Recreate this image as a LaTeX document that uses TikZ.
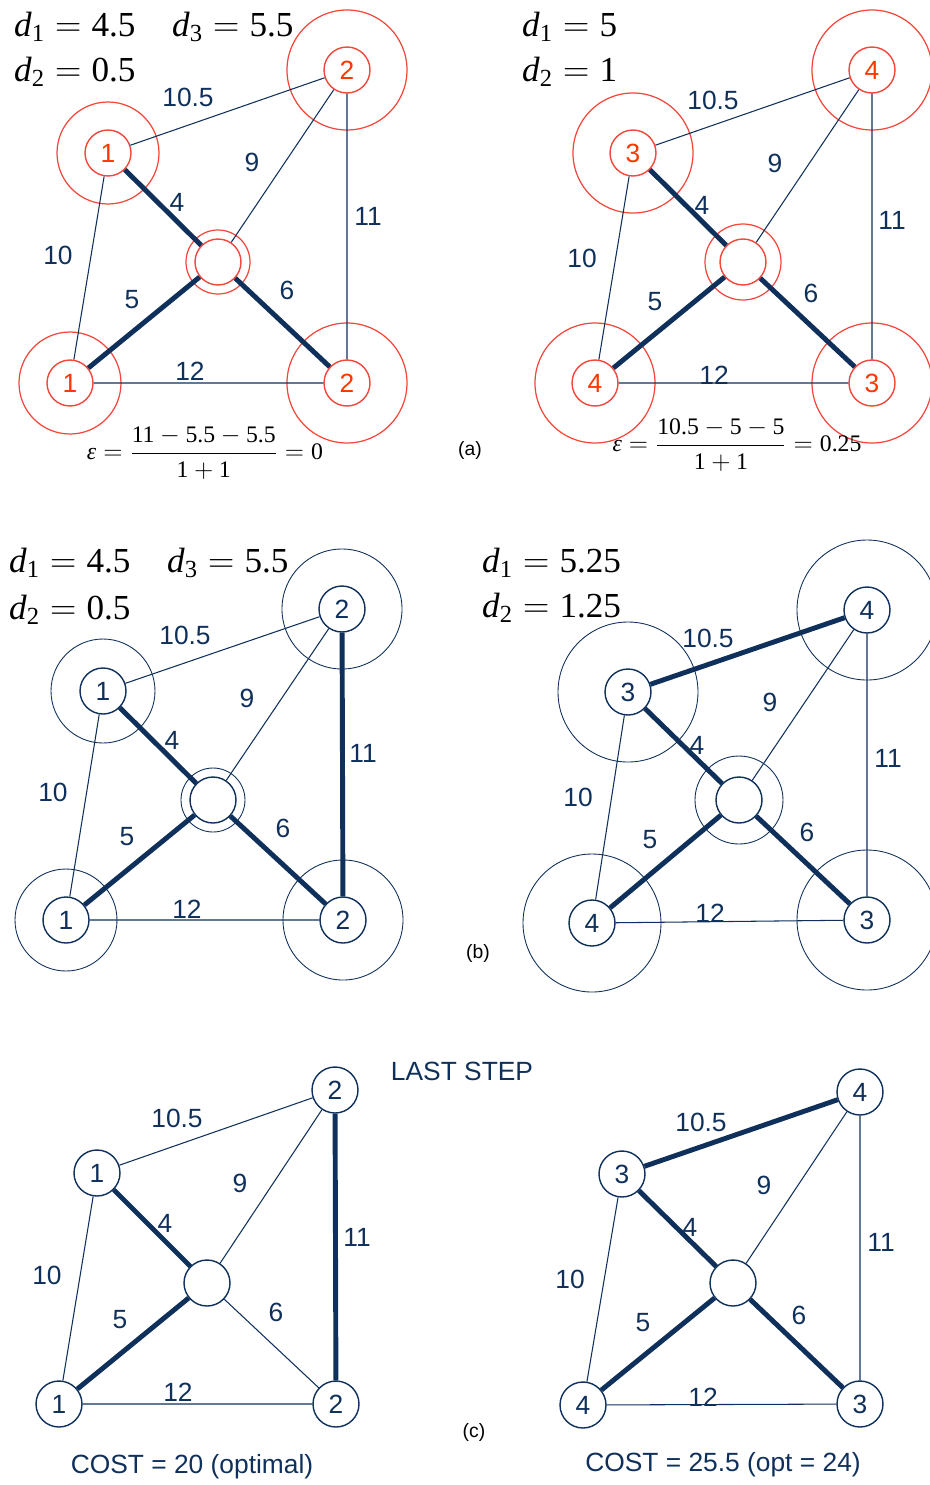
\documentclass[tikz,border=0pt]{standalone}
\usepackage{amsmath}
\usepackage{fontspec}
\setmainfont{Liberation Sans}
\newfontfamily\eqfont{Liberation Serif}
\usepackage{tikz}
\usetikzlibrary{positioning}
\definecolor{navy}{RGB}{16,48,92}
\definecolor{ringred}{RGB}{245,70,60}
\definecolor{numred}{RGB}{255,55,0}

\begin{document}
\begin{tikzpicture}[
  x=0.02cm, y=-0.02cm,
  vtx/.style={circle, draw=navy, line width=0.8pt, fill=white, minimum size=0.92cm, inner sep=0pt, text=navy, font=\fontsize{15}{15}\selectfont},
  redvtx/.style={vtx, draw=ringred, text=numred},
  ring/.style={draw=navy, line width=0.5pt},
  redring/.style={draw=ringred, line width=0.7pt},
  thinedge/.style={draw=navy, line width=0.6pt},
  thickedge/.style={draw=navy, line width=2.8pt},
  wt/.style={text=navy, font=\fontsize{15}{15}\selectfont},
  dlab/.style={anchor=west, font=\eqfont\fontsize{20}{22}\selectfont},
  eqlab/.style={font=\eqfont\fontsize{13.5}{15}\selectfont},
  tag/.style={font=\fontsize{11}{11}\selectfont},
  captext/.style={text=navy, font=\fontsize{15}{15}\selectfont}
]
  \useasboundingbox (0,0) rectangle (930,1485);

  %% (a) left: red rings, d1 = 4.5, d2 = 0.5, d3 = 5.5
  \node[redvtx] (aLnw) at (108,153) {1};
  \node[redvtx] (aLne) at (347,70) {2};
  \node[redvtx] (aLc) at (218,262) {};
  \node[redvtx] (aLsw) at (70,383) {1};
  \node[redvtx] (aLse) at (347,383) {2};
  \draw[redring] (aLnw) circle[radius=51] (aLne) circle[radius=60] (aLc) circle[radius=32]
    (aLsw) circle[radius=51] (aLse) circle[radius=60];
  \draw[thinedge] (aLnw) -- (aLne) (aLc) -- (aLne) (aLne) -- (aLse) (aLnw) -- (aLsw) (aLsw) -- (aLse);
  \draw[thickedge] (aLnw) -- (aLc) (aLsw) -- (aLc) (aLc) -- (aLse);
  \node[wt] (aLw1) at (188,97) {10.5};
  \node[wt] (aLw2) at (252,162) {9};
  \node[wt] (aLw3) at (177,202) {4};
  \node[wt] (aLw4) at (368,216) {11};
  \node[wt] (aLw5) at (58,255) {10};
  \node[wt] (aLw6) at (132,300) {5};
  \node[wt] (aLw7) at (287,290) {6};
  \node[wt] (aLw8) at (190,371) {12};
  \node[dlab] (aLd1) at (8,27) {$\text{\textit{d}}_{\text{1}} = \text{4.5}$};
  \node[dlab] (aLd3) at (166,27) {$\text{\textit{d}}_{\text{3}} = \text{5.5}$};
  \node[dlab] (aLd2) at (8,72) {$\text{\textit{d}}_{\text{2}} = \text{0.5}$};
  \node[eqlab] (aLeps) at (205,453) {$\displaystyle \text{\textit{ε}} = \frac{\text{11}-\text{5.5}-\text{5.5}}{\text{1}+\text{1}} = \text{0}$};

  %% (a) right
  \node[redvtx] (aRnw) at (633,153) {3};
  \node[redvtx] (aRne) at (872,70) {4};
  \node[redvtx] (aRc) at (743,262) {};
  \node[redvtx] (aRsw) at (595,383) {4};
  \node[redvtx] (aRse) at (872,383) {3};
  \draw[redring] (aRnw) circle[radius=60] (aRne) circle[radius=60] (aRc) circle[radius=38]
    (aRsw) circle[radius=60] (aRse) circle[radius=60];
  \draw[thinedge] (aRnw) -- (aRne) (aRc) -- (aRne) (aRne) -- (aRse) (aRnw) -- (aRsw) (aRsw) -- (aRse);
  \draw[thickedge] (aRnw) -- (aRc) (aRsw) -- (aRc) (aRc) -- (aRse);
  \node[wt] (aRw1) at (713,100) {10.5};
  \node[wt] (aRw2) at (775,163) {9};
  \node[wt] (aRw3) at (702,205) {4};
  \node[wt] (aRw4) at (892,220) {11};
  \node[wt] (aRw5) at (582,258) {10};
  \node[wt] (aRw6) at (655,302) {5};
  \node[wt] (aRw7) at (811,293) {6};
  \node[wt] (aRw8) at (714,375) {12};
  \node[dlab] (aRd1) at (516,27) {$\text{\textit{d}}_{\text{1}} = \text{5}$};
  \node[dlab] (aRd2) at (516,72) {$\text{\textit{d}}_{\text{2}} = \text{1}$};
  \node[eqlab] (aReps) at (737,445) {$\displaystyle \text{\textit{ε}} = \frac{\text{10.5}-\text{5}-\text{5}}{\text{1}+\text{1}} = \text{0.25}$};
  \node[tag] (atag) at (470,450) {(a)};

  %% (b) left: navy rings
  \node[vtx] (bLnw) at (103,691) {1};
  \node[vtx] (bLne) at (342,609) {2};
  \node[vtx] (bLc) at (213,800) {};
  \node[vtx] (bLsw) at (66,920) {1};
  \node[vtx] (bLse) at (343,920) {2};
  \draw[ring] (bLnw) circle[radius=52] (bLne) circle[radius=60] (bLc) circle[radius=32]
    (bLsw) circle[radius=51] (bLse) circle[radius=60];
  \draw[thinedge] (bLnw) -- (bLne) (bLc) -- (bLne) (bLnw) -- (bLsw) (bLsw) -- (bLse);
  \draw[thickedge] (bLnw) -- (bLc) (bLsw) -- (bLc) (bLc) -- (bLse) (bLne) -- (bLse);
  \node[wt] (bLw1) at (185,635) {10.5};
  \node[wt] (bLw2) at (247,698) {9};
  \node[wt] (bLw3) at (172,740) {4};
  \node[wt] (bLw4) at (363,753) {11};
  \node[wt] (bLw5) at (53,792) {10};
  \node[wt] (bLw6) at (127,837) {5};
  \node[wt] (bLw7) at (283,828) {6};
  \node[wt] (bLw8) at (187,909) {12};
  \node[dlab] (bLd1) at (3,563) {$\text{\textit{d}}_{\text{1}} = \text{4.5}$};
  \node[dlab] (bLd3) at (161,563) {$\text{\textit{d}}_{\text{3}} = \text{5.5}$};
  \node[dlab] (bLd2) at (3,610) {$\text{\textit{d}}_{\text{2}} = \text{0.5}$};

  %% (b) right
  \node[vtx] (bRnw) at (628,692) {3};
  \node[vtx] (bRne) at (867,610) {4};
  \node[vtx] (bRc) at (739,800) {};
  \node[vtx] (bRsw) at (592,923) {4};
  \node[vtx] (bRse) at (867,920) {3};
  \draw[ring] (bRnw) circle[radius=70] (bRne) circle[radius=70] (bRc) circle[radius=44]
    (bRsw) circle[radius=69] (bRse) circle[radius=70];
  \draw[thinedge] (bRc) -- (bRne) (bRne) -- (bRse) (bRnw) -- (bRsw) (bRsw) -- (bRse);
  \draw[thickedge] (bRnw) -- (bRne) (bRnw) -- (bRc) (bRsw) -- (bRc) (bRc) -- (bRse);
  \node[wt] (bRw1) at (708,638) {10.5};
  \node[wt] (bRw2) at (770,702) {9};
  \node[wt] (bRw3) at (697,745) {4};
  \node[wt] (bRw4) at (888,758) {11};
  \node[wt] (bRw5) at (578,797) {10};
  \node[wt] (bRw6) at (650,840) {5};
  \node[wt] (bRw7) at (807,832) {6};
  \node[wt] (bRw8) at (710,913) {12};
  \node[dlab] (bRd1) at (476,563) {$\text{\textit{d}}_{\text{1}} = \text{5.25}$};
  \node[dlab] (bRd2) at (476,608) {$\text{\textit{d}}_{\text{2}} = \text{1.25}$};
  \node[tag] (btag) at (478,953) {(b)};

  %% (c) last step, no rings
  \node[captext] (last) at (462,1071) {LAST STEP};

  \node[vtx] (cLnw) at (97,1173) {1};
  \node[vtx] (cLne) at (335,1090) {2};
  \node[vtx] (cLc) at (207,1283) {};
  \node[vtx] (cLsw) at (59,1404) {1};
  \node[vtx] (cLse) at (336,1404) {2};
  \draw[thinedge] (cLnw) -- (cLne) (cLc) -- (cLne) (cLnw) -- (cLsw) (cLsw) -- (cLse) (cLc) -- (cLse);
  \draw[thickedge] (cLnw) -- (cLc) (cLsw) -- (cLc) (cLne) -- (cLse);
  \node[wt] (cLw1) at (177,1118) {10.5};
  \node[wt] (cLw2) at (240,1183) {9};
  \node[wt] (cLw3) at (165,1223) {4};
  \node[wt] (cLw4) at (357,1237) {11};
  \node[wt] (cLw5) at (47,1275) {10};
  \node[wt] (cLw6) at (120,1320) {5};
  \node[wt] (cLw7) at (276,1312) {6};
  \node[wt] (cLw8) at (178,1392) {12};
  \node[captext] (cLcost) at (192,1467) {COST = 20 (optimal)};

  \node[vtx] (cRnw) at (622,1174) {3};
  \node[vtx] (cRne) at (860,1092) {4};
  \node[vtx] (cRc) at (733,1283) {};
  \node[vtx] (cRsw) at (583,1405) {4};
  \node[vtx] (cRse) at (860,1404) {3};
  \draw[thinedge] (cRc) -- (cRne) (cRne) -- (cRse) (cRnw) -- (cRsw) (cRsw) -- (cRse);
  \draw[thickedge] (cRnw) -- (cRne) (cRnw) -- (cRc) (cRsw) -- (cRc) (cRc) -- (cRse);
  \node[wt] (cRw1) at (701,1122) {10.5};
  \node[wt] (cRw2) at (764,1185) {9};
  \node[wt] (cRw3) at (690,1227) {4};
  \node[wt] (cRw4) at (881,1242) {11};
  \node[wt] (cRw5) at (570,1279) {10};
  \node[wt] (cRw6) at (643,1323) {5};
  \node[wt] (cRw7) at (799,1315) {6};
  \node[wt] (cRw8) at (703,1397) {12};
  \node[captext] (cRcost) at (723,1465) {COST = 25.5 (opt = 24)};
  \node[tag] (ctag) at (474,1432) {(c)};

\end{tikzpicture}
\end{document}
